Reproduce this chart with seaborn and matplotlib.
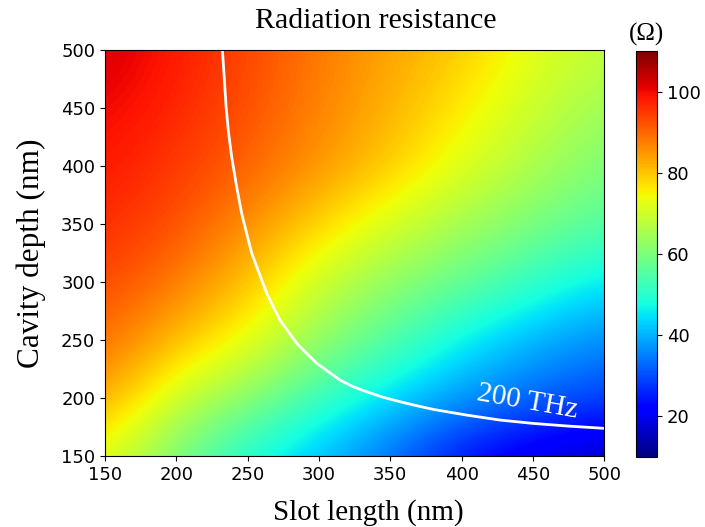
import numpy as np
import pandas as pd
import matplotlib
matplotlib.use("Agg")
import matplotlib.pyplot as plt
import seaborn as sns

# Grid of slot lengths / cavity depths (nm)
slot_length = [150, 200, 250, 300, 350, 400, 450, 500]
cavity_depth = [150, 200, 250, 300, 350, 400, 450, 500]

# Radiation resistance (ohm); one row per cavity depth, one column per slot length
r_150 = [72.5, 59.0, 48.0, 41.0, 33.0, 23.0, 18.5, 15.0]
r_200 = [84.0, 69.5, 62.0, 52.0, 44.0, 38.0, 33.0, 29.0]
r_250 = [89.5, 81.0, 73.5, 63.0, 55.0, 46.0, 40.0, 36.0]
r_300 = [93.5, 88.0, 80.5, 69.5, 62.5, 57.5, 51.0, 45.0]
r_350 = [96.5, 92.5, 86.0, 78.5, 71.0, 65.0, 60.0, 55.0]
r_400 = [98.5, 95.0, 90.5, 85.0, 79.5, 72.0, 66.0, 60.0]
r_450 = [100.5, 97.0, 92.5, 87.0, 82.0, 76.0, 69.5, 64.0]
r_500 = [102.5, 98.5, 93.5, 88.0, 83.5, 79.5, 72.5, 68.0]

# 200 THz resonance curve (slot length, cavity depth)
f200_length = [232.3, 233.4, 234.9, 236.5, 238.8, 242.3, 245.8, 250.5, 252.9,
               256.4, 259.9, 263.4, 268.0, 272.7, 278.6, 284.4, 291.4, 298.5,
               306.6, 314.8, 324.1, 333.5, 345.2, 356.9, 368.5, 380.2, 403.6,
               427.0, 450.4, 473.8, 499.5]
f200_depth = [500.0, 479.9, 451.1, 430.0, 408.0, 382.2, 359.2, 336.2, 324.7,
              313.2, 301.7, 290.3, 278.7, 267.2, 257.2, 247.2, 238.5, 229.9,
              222.7, 215.5, 209.7, 205.4, 200.6, 196.8, 193.4, 190.2, 185.3,
              181.0, 178.1, 175.9, 173.9]

cbar_ticks = [20, 40, 60, 80, 100]

resistance = np.array([r_150, r_200, r_250, r_300, r_350, r_400, r_450, r_500])

serif = ["Liberation Serif", "DejaVu Serif"]

fig = plt.figure(figsize=(7.05, 5.27), dpi=100)
ax = fig.add_axes([0.149, 0.1347, 0.708, 0.770])
cax = fig.add_axes([0.902, 0.1328, 0.030, 0.770])

dx = slot_length[1] - slot_length[0]
dy = cavity_depth[1] - cavity_depth[0]
im = ax.imshow(resistance, origin="lower", cmap="jet", vmin=10, vmax=110,
               interpolation="bicubic", aspect="auto",
               extent=[slot_length[0] - dx / 2, slot_length[-1] + dx / 2,
                       cavity_depth[0] - dy / 2, cavity_depth[-1] + dy / 2])

curve = pd.DataFrame({"length": f200_length, "depth": f200_depth})
sns.lineplot(data=curve, x="length", y="depth", sort=False, color="white",
             linewidth=2, ax=ax)

ax.text(446, 196.5, "200 THz", color="white", fontsize=21,
        family=serif, rotation=-10, ha="center", va="center")

ax.set_xlim(150, 500)
ax.set_ylim(150, 500)
ax.set_xticks([150, 200, 250, 300, 350, 400, 450, 500])
ax.set_yticks([150, 200, 250, 300, 350, 400, 450, 500])
ax.tick_params(labelsize=13)
ax.set_xlabel("Slot length (nm)", fontsize=21, family=serif)
ax.xaxis.set_label_coords(0.527, -0.105)
ax.set_ylabel("Cavity depth (nm)", fontsize=22.5, family=serif, labelpad=11)

fig.text(376 / 705, 1 - 28 / 527, "Radiation resistance", fontsize=21.5,
         family=serif, ha="center", va="baseline")

cb = fig.colorbar(im, cax=cax, ticks=cbar_ticks)
cb.ax.tick_params(labelsize=13)
cax.set_title("(Ω)", fontsize=18, family=serif, pad=8)

fig.savefig("out.png", dpi=100)
